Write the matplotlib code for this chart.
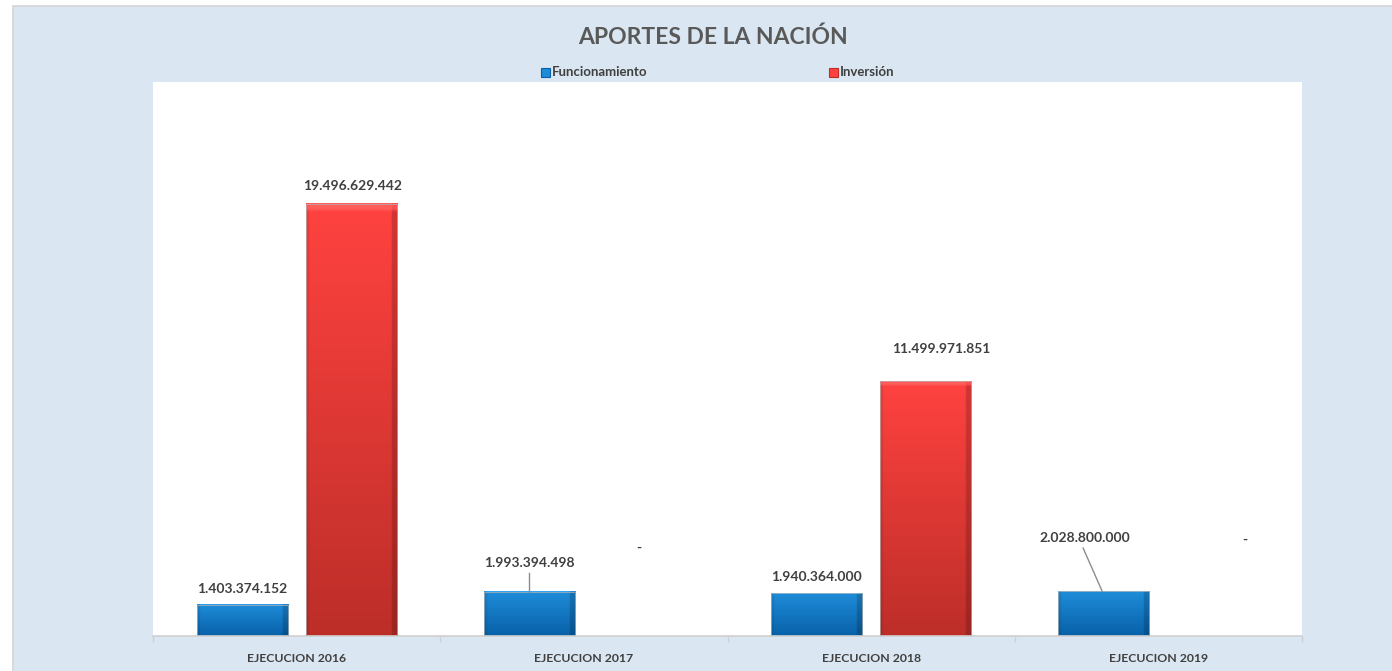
from matplotlib import pyplot as plt
from matplotlib.patches import Rectangle
import numpy as np

plt.rcParams['font.family'] = ['Lato', 'DejaVu Sans']

categories = ['EJECUCION 2016', 'EJECUCION 2017', 'EJECUCION 2018', 'EJECUCION 2019']
funcionamiento = [1403374152, 1993394498, 1940364000, 2028800000]
inversion = [19496629442, 0, 11499971851, 0]
series_names = ['Funcionamiento', 'Inversión']

BG = '#DAE6F1'
TXT = '#404040'


def fmt(v):
    if v == 0:
        return '-'
    return '{:,}'.format(v).replace(',', '.')


def gradBar(ax, xc, w, h, top, bottom):
    # fake the excel bevel: vertical gradient + dark right edge + light top
    top, bottom = np.array(top), np.array(bottom)
    ny, nx = 120, 60
    t = np.linspace(0, 1, ny)[:, None, None]
    img = top * (1 - t) + bottom * t
    img = np.repeat(img, nx, axis=1)
    s = np.linspace(0, 1, nx)
    shade = np.ones(nx)
    shade[s > 0.94] = 0.82
    shade[s < 0.03] = 0.92
    img = img * shade[None, :, None]
    img[:2, :, :] = np.clip(img[:2, :, :] * 1.1 + 0.08, 0, 1)
    ax.imshow(np.clip(img, 0, 1), extent=[xc - w / 2, xc + w / 2, 0, h],
              aspect='auto', origin='upper', zorder=2, interpolation='bilinear')
    ax.add_patch(Rectangle((xc - w / 2, 0), w, h, fill=False, ec='#b5b5b5', lw=0.5, zorder=3))


fig = plt.figure(figsize=(13.92, 6.71), dpi=100)
fig.patch.set_facecolor('white')
fig.patches.append(Rectangle((13 / 1392, -0.1), 1.2, 1 - 6 / 671 + 0.1, transform=fig.transFigure,
                             fc=BG, ec='#D4D4D4', lw=1.2, zorder=-10))

ax = fig.add_axes([153 / 1392, 35 / 671, 1149 / 1392, 554 / 671])
ax.set_facecolor('white')

x = np.arange(len(categories))
w = 0.317
off = 0.19
blue_top, blue_bot = (0.12, 0.55, 0.85), (0.03, 0.38, 0.66)
red_top, red_bot = (1.0, 0.26, 0.25), (0.74, 0.18, 0.16)

for i in range(len(categories)):
    if funcionamiento[i] > 0:
        gradBar(ax, x[i] - off, w, funcionamiento[i], blue_top, blue_bot)
    if inversion[i] > 0:
        gradBar(ax, x[i] + off, w, inversion[i], red_top, red_bot)

ax.set_xlim(-0.5, 3.5)
ax.set_ylim(0, 25e9)

# data labels (offsets as placed in the original sheet)
lab_f = [(0, 0.72e9), (0, 1.3e9), (0, 0.72e9), (-0.065, 2.39e9)]
lab_i = [(0.005, 0.8e9), (0, 3.97e9), (0.055, 1.45e9), (0.11, 4.33e9)]
for i in range(len(categories)):
    dx, dy = lab_f[i]
    xs, ys = x[i] - off + dx, funcionamiento[i] + dy
    ax.text(xs, ys, fmt(funcionamiento[i]), ha='center', va='center', fontsize=10,
            fontweight='bold', color=TXT, zorder=5)
    if dy > 1.0e9:
        ax.plot([xs - 0.007 * (dx != 0), x[i] - off - 0.006 * (dx != 0)], [ys - 0.45e9, funcionamiento[i]],
                color='#8c8c8c', lw=1, zorder=4)
    dx, dy = lab_i[i]
    yv = inversion[i] + dy if inversion[i] > 0 else dy
    ax.text(x[i] + off + dx, yv, fmt(inversion[i]), ha='center', va='center', fontsize=10,
            fontweight='bold', color=TXT, zorder=5)

ax.set_xticks(x)
ax.set_xticklabels(categories, fontsize=8.8, fontweight='bold', color=TXT)
ax.set_xticks(np.arange(-0.5, 4, 1), minor=True)
ax.tick_params(axis='x', which='major', length=0, pad=12)
ax.tick_params(axis='x', which='minor', length=4, color='#D0D0D0', width=1)
ax.set_yticks([])
for s in ['top', 'left', 'right']:
    ax.spines[s].set_visible(False)
ax.spines['bottom'].set_color('#D0D0D0')
ax.spines['bottom'].set_linewidth(1.2)

fig.text(713 / 1392, 1 - 37 / 671, 'APORTES DE LA NACIÓN', ha='center', va='center',
         fontsize=16.5, fontweight='bold', color='#595959')

leg_x = [541, 829]
leg_c = [(blue_top, blue_bot), (red_top, red_bot)]
for lx, name, (c1, c2) in zip(leg_x, series_names, leg_c):
    fig.patches.append(Rectangle((lx / 1392, 1 - 77 / 671), 9 / 1392, 9 / 671,
                                 transform=fig.transFigure, fc=c1, ec=c2, lw=0.8, zorder=3))
    fig.text((lx + 11) / 1392, 1 - 72 / 671, name, ha='left', va='center', fontsize=9.5,
             fontweight='bold', color=TXT)

plt.savefig('out.png', dpi=100, facecolor=fig.get_facecolor())
